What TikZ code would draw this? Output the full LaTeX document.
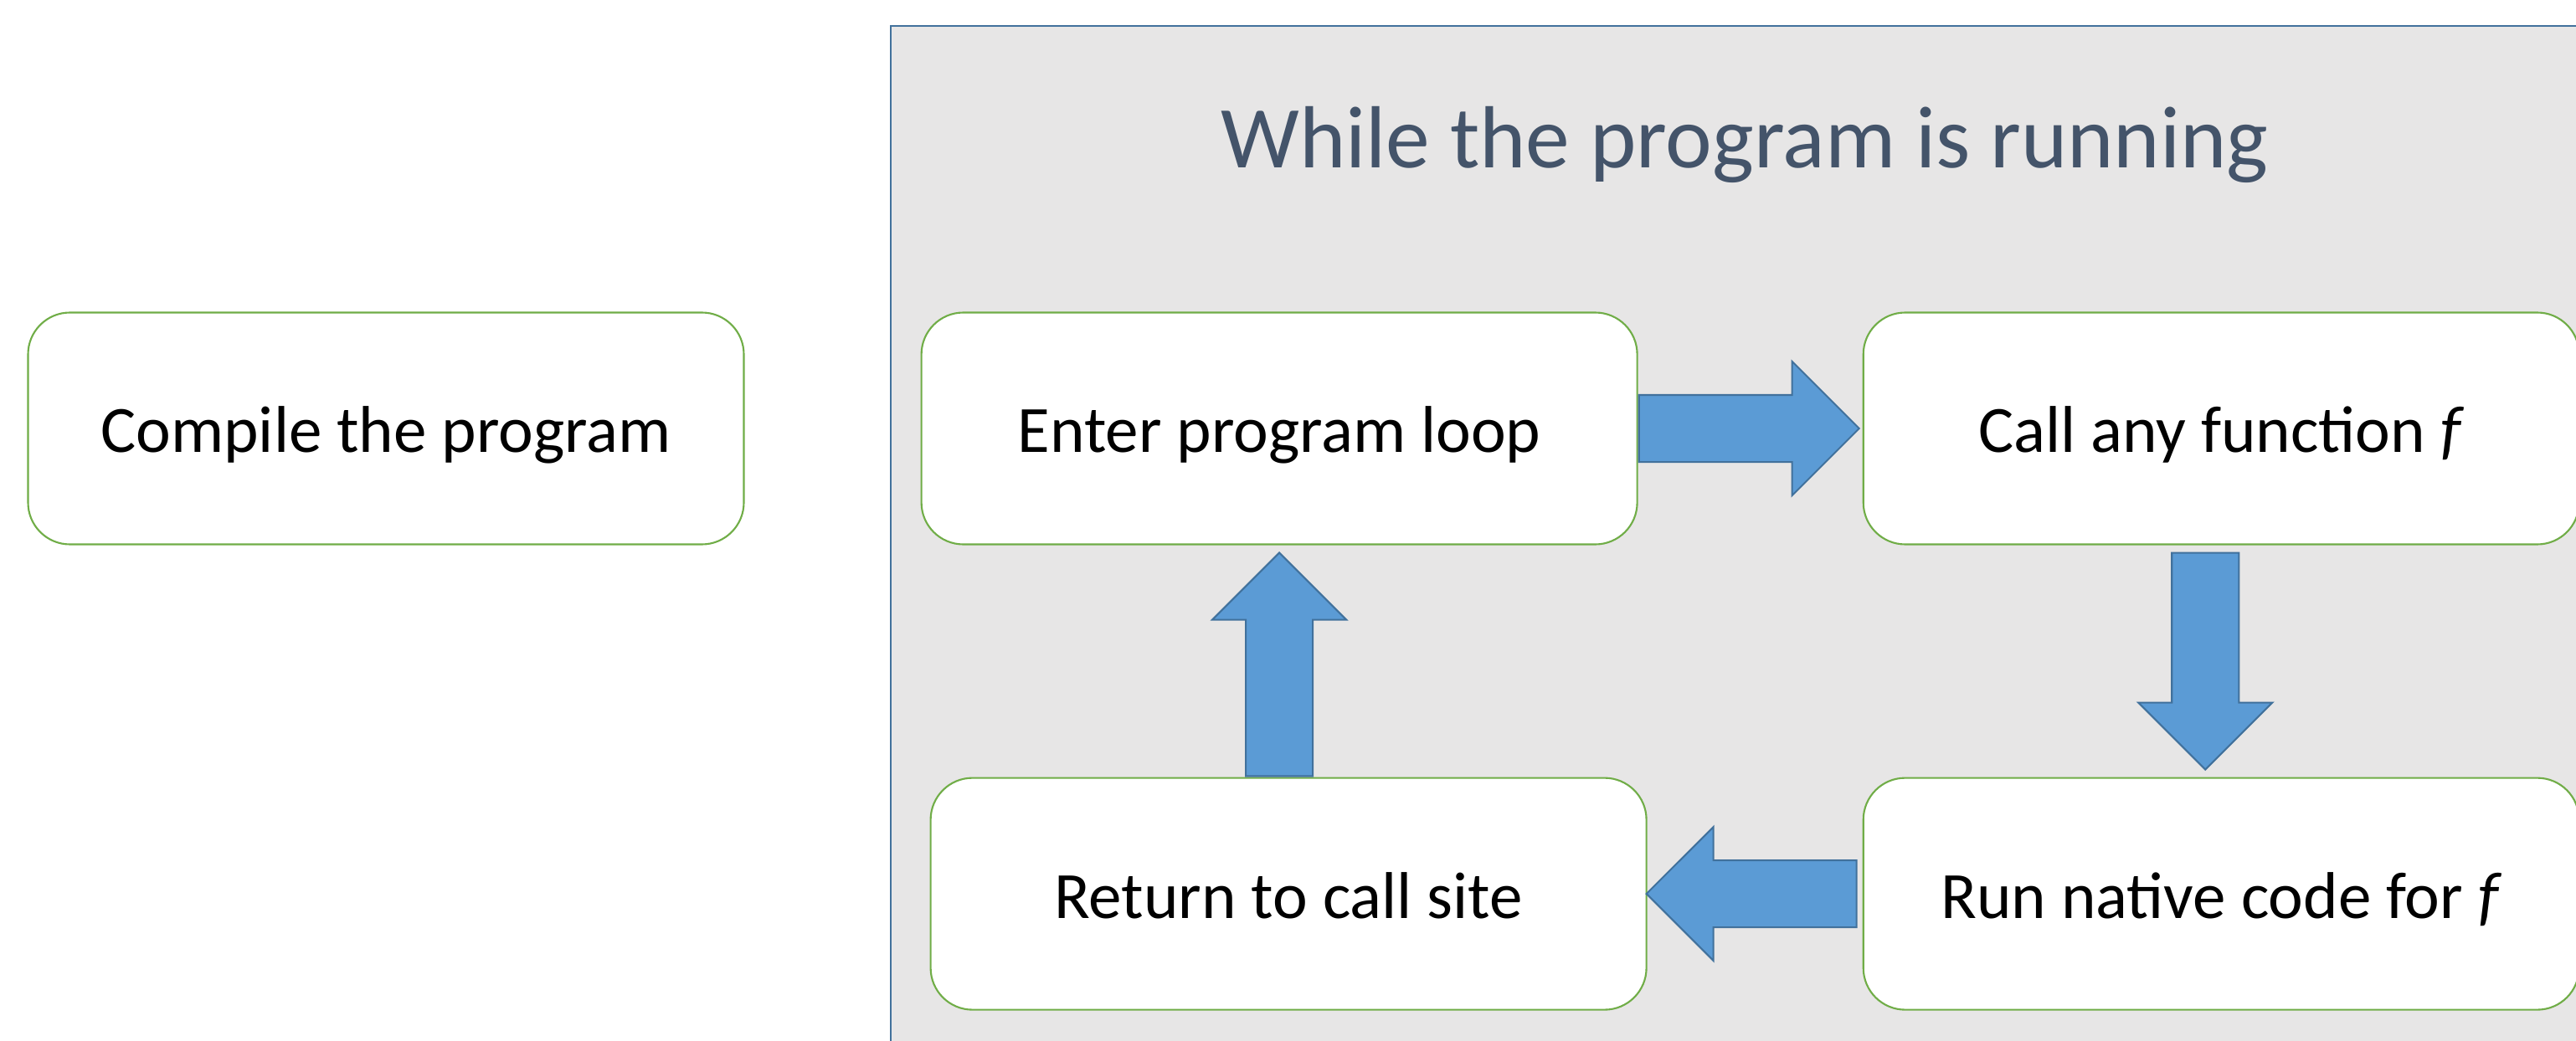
\documentclass[tikz,border=0pt]{standalone}
\usepackage{fontspec}
\setmainfont{Carlito}
\usetikzlibrary{positioning,shapes.arrows}
\definecolor{framegray}{HTML}{E7E6E6}
\definecolor{frameblue}{HTML}{41719C}
\definecolor{titleslate}{HTML}{44546A}
\definecolor{boxgreen}{HTML}{70AD47}
\definecolor{arrowfill}{HTML}{5B9BD5}
\definecolor{arrowedge}{HTML}{41719C}

\begin{document}
\begin{tikzpicture}[
    box/.style={rectangle, draw=boxgreen, fill=white, line width=0.6pt, rounded corners=0.5cm,
      minimum width=8.55cm, minimum height=2.77cm, text height=21pt, text depth=4.5pt,
      font=\fontsize{22.5}{27}\selectfont},
    barrow/.style={single arrow, draw=arrowedge, fill=arrowfill, line width=0.6pt,
      minimum width=1.58cm, single arrow head extend=0.4cm, single arrow head indent=0pt,
      inner xsep=0pt, inner ysep=0.39cm, sloped, allow upside down, pos=0, anchor=tail}
]
\clip (0,0) rectangle (30.77,12.43);

% frame of the running phase
\fill[framegray] (10.64,-1) rectangle (32,12.12);
\draw[frameblue, line width=0.6pt] (10.64,-1) -- (10.64,12.12) -- (32,12.12);
\node[text=titleslate, font=\fontsize{30}{36}\selectfont] (title) at (20.84,10.7) {While the program is running};

\node[box] (compile) at (4.61,7.31) {Compile the program};
\node[box, right=2.1cm of compile] (enter) {Enter program loop};
\node[box, right=2.68cm of enter] (call) {Call any function \textit{f}};
\node[box, below=2.77cm of call] (run) {Run native code for \textit{f}};
\node[box, left=2.57cm of run] (return) {Return to call site};

\path (enter.east) -- node[barrow, minimum height=2.63cm] (toCall) {} (call.west);
\path ([xshift=-0.19cm, yshift=-0.08cm]call.south) -- node[barrow, minimum height=2.59cm] (toRun) {} ([xshift=-0.19cm]run.north);
\path ([xshift=-0.06cm]run.west) -- node[barrow, minimum height=2.51cm] (toReturn) {} (return.east);
\path (enter.south |- return.north) -- node[barrow, minimum height=2.67cm] (toEnter) {} (enter.south);
\end{tikzpicture}
\end{document}
